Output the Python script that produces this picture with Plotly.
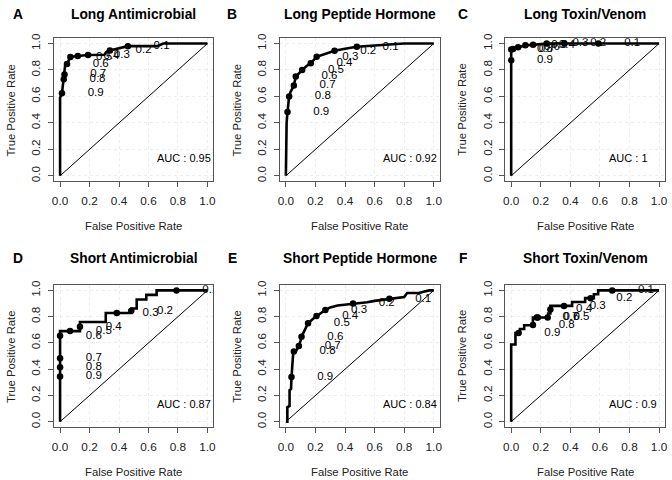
import plotly.graph_objects as go

# ---------------- data ----------------
CUTOFFS = ["0.9", "0.8", "0.7", "0.6", "0.5", "0.4", "0.3", "0.2", "0.1"]
TITLES = ["Long Antimicrobial", "Long Peptide Hormone", "Long Toxin/Venom",
          "Short Antimicrobial", "Short Peptide Hormone", "Short Toxin/Venom"]
LETTERS = ["A", "B", "C", "D", "E", "F"]
AUC = ["0.95", "0.92", "1", "0.87", "0.84", "0.9"]
TICKS = [0, 0.2, 0.4, 0.6, 0.8, 1.0]
TICK_LABELS = ["0.0", "0.2", "0.4", "0.6", "0.8", "1.0"]

A_fpr = [0, 0, 0.013, 0.02, 0.025, 0.03, 0.035, 0.047, 0.06, 0.07, 0.12, 0.19, 0.30, 0.32, 0.338, 0.46, 0.66, 0.70, 1.0]
A_tpr = [0, 0.59, 0.625, 0.70, 0.73, 0.765, 0.84, 0.845, 0.87, 0.898, 0.905, 0.913, 0.915, 0.94, 0.948, 0.98, 0.98, 1.0, 1.0]
A_cut_fpr = [0.013, 0.025, 0.03, 0.047, 0.07, 0.12, 0.19, 0.338, 0.46]
A_cut_tpr = [0.625, 0.73, 0.765, 0.845, 0.898, 0.905, 0.913, 0.948, 0.98]

B_fpr = [0, 0, 0.005, 0.011, 0.02, 0.03, 0.054, 0.067, 0.09, 0.11, 0.14, 0.168, 0.208, 0.26, 0.329, 0.40, 0.48, 0.60, 0.70, 0.80, 1.0]
B_tpr = [0, 0.25, 0.40, 0.48, 0.58, 0.63, 0.683, 0.75, 0.78, 0.80, 0.83, 0.85, 0.90, 0.92, 0.945, 0.96, 0.975, 0.985, 0.995, 1.0, 1.0]
B_cut_fpr = [0.011, 0.022, 0.054, 0.067, 0.11, 0.168, 0.208, 0.329, 0.48]
B_cut_tpr = [0.483, 0.60, 0.683, 0.75, 0.80, 0.85, 0.90, 0.945, 0.975]

C_fpr = [0, 0, 0, 0.013, 0.047, 0.096, 0.148, 0.24, 1.0]
C_tpr = [0, 0.873, 0.955, 0.958, 0.972, 0.987, 0.99, 1.0, 1.0]
C_cut_fpr = [0, 0, 0.013, 0.047, 0.096, 0.148, 0.24, 0.36, 0.59]
C_cut_tpr = [0.873, 0.955, 0.958, 0.972, 0.987, 0.99, 1.0, 1.0, 1.0]

D_fpr = [0, 0, 0.135, 0.135, 0.31, 0.31, 0.483, 0.483, 0.52, 0.52, 0.585, 0.585, 0.655, 0.655, 1.0]
D_tpr = [0, 0.69, 0.69, 0.759, 0.759, 0.828, 0.828, 0.862, 0.862, 0.931, 0.931, 0.966, 0.966, 1.0, 1.0]
D_cut_fpr = [0, 0, 0, 0, 0.068, 0.135, 0.385, 0.483, 0.79]
D_cut_tpr = [0.345, 0.414, 0.483, 0.655, 0.69, 0.724, 0.828, 0.845, 1.0]

E_fpr = [0, 0.01, 0.01, 0.025, 0.025, 0.035, 0.038, 0.045, 0.05, 0.07, 0.088, 0.10, 0.106, 0.12, 0.15, 0.18, 0.207, 0.24, 0.267,
         0.30, 0.35, 0.40, 0.454, 0.50, 0.55, 0.60, 0.70, 0.75, 0.80, 0.82, 0.90, 0.93, 0.97, 1.0]
E_tpr = [0, 0.0, 0.11, 0.12, 0.24, 0.25, 0.34, 0.45, 0.53, 0.54, 0.576, 0.62, 0.647, 0.68, 0.75, 0.78, 0.805, 0.83, 0.85,
         0.87, 0.885, 0.89, 0.90, 0.905, 0.91, 0.92, 0.937, 0.94, 0.95, 0.98, 0.98, 0.99, 1.0, 1.0]
E_cut_fpr = [0.038, 0.054, 0.088, 0.106, 0.15, 0.207, 0.267, 0.454, 0.70]
E_cut_tpr = [0.34, 0.534, 0.576, 0.647, 0.75, 0.805, 0.85, 0.90, 0.937]

F_fpr = [0, 0, 0.029, 0.029, 0.059, 0.059, 0.088, 0.088, 0.147, 0.147, 0.25, 0.25, 0.265, 0.265, 0.412, 0.412,
         0.50, 0.50, 0.559, 0.559, 0.588, 0.588, 1.0]
F_tpr = [0, 0.588, 0.588, 0.676, 0.676, 0.706, 0.706, 0.735, 0.735, 0.794, 0.794, 0.824, 0.824, 0.882, 0.882, 0.912,
         0.912, 0.941, 0.941, 0.971, 0.971, 1.0, 1.0]
F_cut_fpr = [0.05, 0.147, 0.173, 0.18, 0.247, 0.265, 0.357, 0.537, 0.683]
F_cut_tpr = [0.676, 0.737, 0.794, 0.794, 0.794, 0.855, 0.882, 0.941, 1.0]

panels = [
    (A_fpr, A_tpr, A_cut_fpr, A_cut_tpr),
    (B_fpr, B_tpr, B_cut_fpr, B_cut_tpr),
    (C_fpr, C_tpr, C_cut_fpr, C_cut_tpr),
    (D_fpr, D_tpr, D_cut_fpr, D_cut_tpr),
    (E_fpr, E_tpr, E_cut_fpr, E_cut_tpr),
    (F_fpr, F_tpr, F_cut_fpr, F_cut_tpr),
]

# ---------------- layout geometry (pixels) ----------------
W, H = 672, 480
COL_X0 = [58.5, 286, 513]     # pixel of x = 0
COL_X1 = [207, 435, 662]      # pixel of x = 1
ROW_Y1 = [39, 289]            # pixel of y = 1
ROW_Y0 = [173, 422]           # pixel of y = 0
XTITLE_Y = [224, 473]
TITLE_Y = [9.5, 257]
LETTER_X = [16, 232, 464]
PAD = 0.04
FONT = "Liberation Sans, Arial, Helvetica, sans-serif"
LABEL_SHIFT_PX = 34

fig = go.Figure()
layout = dict(width=W, height=H, margin=dict(l=0, r=0, t=0, b=0),
              paper_bgcolor="white", plot_bgcolor="white", showlegend=False,
              font=dict(family=FONT, color="black"))
annotations = []

for i, (fpr, tpr, cfpr, ctpr) in enumerate(panels):
    r, c = divmod(i, 3)
    sfx = "" if i == 0 else str(i + 1)
    xa, ya = "x" + sfx, "y" + sfx
    ux = COL_X1[c] - COL_X0[c]
    uy = ROW_Y0[r] - ROW_Y1[r]
    left = COL_X0[c] - PAD * ux
    right = COL_X1[c] + PAD * ux
    top = ROW_Y1[r] - PAD * uy
    bottom = ROW_Y0[r] + PAD * uy

    fig.add_trace(go.Scatter(x=[0, 1], y=[0, 1], mode="lines", line=dict(color="black", width=1),
                             xaxis=xa, yaxis=ya, hoverinfo="skip"))
    fig.add_trace(go.Scatter(x=fpr, y=tpr, mode="lines", line=dict(color="black", width=2.6),
                             xaxis=xa, yaxis=ya, hoverinfo="skip"))
    fig.add_trace(go.Scatter(x=cfpr, y=ctpr, mode="markers", marker=dict(color="black", size=6.5),
                             xaxis=xa, yaxis=ya, hoverinfo="skip", cliponaxis=True))
    off = LABEL_SHIFT_PX / ux
    fig.add_trace(go.Scatter(x=[v + off for v in cfpr], y=ctpr, mode="text", text=CUTOFFS,
                             textposition="middle center",
                             textfont=dict(family=FONT, size=11.5, color="black"),
                             xaxis=xa, yaxis=ya, hoverinfo="skip", cliponaxis=True))

    axis_common = dict(range=[-PAD, 1 + PAD], tickvals=TICKS, ticktext=TICK_LABELS,
                       ticks="outside", ticklen=5, tickwidth=1, tickcolor="#555",
                       showline=True, mirror=True, linecolor="#555", linewidth=1,
                       zeroline=False, showgrid=True, gridcolor="rgba(0,0,0,0.07)", griddash="dot",
                       tickfont=dict(family=FONT, size=11.8, color="#222"), fixedrange=True)
    layout["xaxis" + sfx] = dict(axis_common, domain=[left / W, right / W], anchor=ya, ticklabelstandoff=4)
    layout["yaxis" + sfx] = dict(axis_common, domain=[1 - bottom / H, 1 - top / H], anchor=xa,
                                 tickangle=-90, ticklabelstandoff=3)

    cx = (COL_X0[c] + COL_X1[c]) / 2
    cy = (ROW_Y0[r] + ROW_Y1[r]) / 2
    # title
    annotations.append(dict(text="<b>" + TITLES[i] + "</b>", x=cx / W, y=1 - TITLE_Y[r] / H,
                            xref="paper", yref="paper", showarrow=False, xanchor="center", yanchor="middle",
                            font=dict(family=FONT, size=13.8, color="black")))
    annotations.append(dict(text="<b>" + LETTERS[i] + "</b>", x=LETTER_X[c] / W, y=1 - TITLE_Y[r] / H,
                            xref="paper", yref="paper", showarrow=False, xanchor="center", yanchor="middle",
                            font=dict(family=FONT, size=13.8, color="black")))
    # axis titles
    annotations.append(dict(text="False Positive Rate", x=cx / W, y=1 - XTITLE_Y[r] / H,
                            xref="paper", yref="paper", showarrow=False, xanchor="center", yanchor="middle",
                            font=dict(family=FONT, size=11.3, color="#222")))
    annotations.append(dict(text="True Positive Rate", x=(COL_X0[c] - 49.5) / W, y=1 - cy / H,
                            xref="paper", yref="paper", showarrow=False, xanchor="center", yanchor="middle",
                            textangle=-90, font=dict(family=FONT, size=11.3, color="#222")))
    # AUC
    annotations.append(dict(text="AUC : " + AUC[i], x=0.645, y=0.135, xref=xa, yref=ya,
                            showarrow=False, xanchor="left", yanchor="middle",
                            font=dict(family=FONT, size=11, color="black")))

layout["annotations"] = annotations
fig.update_layout(**layout)
fig.write_html("out.html", config={"displayModeBar": False, "staticPlot": True},
               post_script="document.body.style.margin='0';document.body.style.overflow='hidden';")
